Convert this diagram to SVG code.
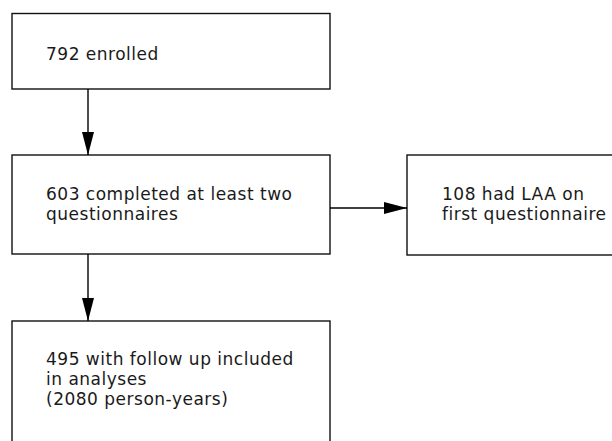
<svg xmlns="http://www.w3.org/2000/svg" width="612" height="441" viewBox="0 0 612 441">
<defs>
<marker id="ah" markerWidth="23" markerHeight="12" refX="23" refY="6" orient="auto" markerUnits="userSpaceOnUse">
<path d="M0,0 L23,6 L0,12 Z" fill="#000"/>
</marker>
<style>
.box{fill:#fff;stroke:#111;stroke-width:1.4}
.lbl{font-family:"DejaVu Sans","Liberation Sans",sans-serif;font-size:17px;letter-spacing:0.5px;fill:#1a1a1a}
.con{stroke:#000;stroke-width:1.4;fill:none}
</style>
</defs>
<rect width="612" height="441" fill="#fff"/>
<g id="n1">
<rect class="box" x="12" y="13.5" width="318" height="75.5"/>
<text class="lbl" x="46" y="60">792 enrolled</text>
</g>
<g id="n2">
<rect class="box" x="12" y="155" width="318" height="99"/>
<text class="lbl" x="46" y="199.5">603 completed at least two</text>
<text class="lbl" x="46" y="219.5">questionnaires</text>
</g>
<g id="n3">
<rect class="box" x="407" y="155" width="220" height="100"/>
<text class="lbl" x="442" y="199.5">108 had LAA on</text>
<text class="lbl" x="442" y="219.5">first questionnaire</text>
</g>
<g id="n4">
<rect class="box" x="12" y="321" width="318" height="140"/>
<text class="lbl" x="46" y="365">495 with follow up included</text>
<text class="lbl" x="46" y="385">in analyses</text>
<text class="lbl" x="46" y="405">(2080 person-years)</text>
</g>
<g id="connectors">
<line class="con" x1="88" y1="89" x2="88" y2="155" marker-end="url(#ah)"/>
<line class="con" x1="330" y1="208" x2="407" y2="208" marker-end="url(#ah)"/>
<line class="con" x1="88" y1="254" x2="88" y2="321" marker-end="url(#ah)"/>
</g>
</svg>
